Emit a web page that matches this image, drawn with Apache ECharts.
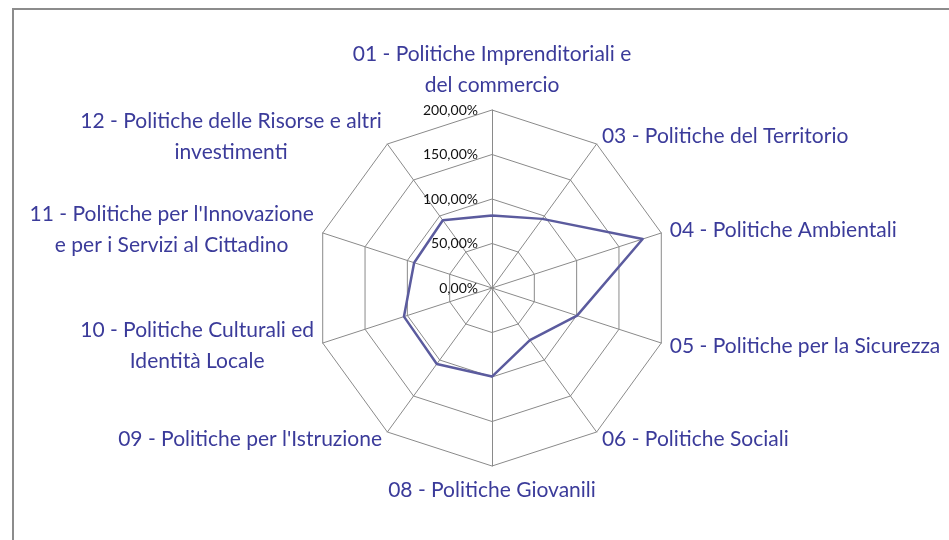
<!DOCTYPE html>
<html>
<head>
<meta charset="utf-8">
<script src="https://cdn.jsdelivr.net/npm/echarts@6/dist/echarts.min.js"></script>
<style>
  html, body {
    margin: 0;
    padding: 0;
    background: #ffffff;
  }
  .frame {
    position: absolute;
    left: 12px;
    top: 8px;
    width: 960px;
    height: 560px;
    border-left: 2px solid #8c8c8c;
    border-top: 2px solid #8c8c8c;
  }
  #chart {
    position: absolute;
    left: 0;
    top: 0;
    width: 949px;
    height: 540px;
  }
</style>
</head>
<body>
<div class="frame"></div>
<div id="chart"></div>
<script>
const categories = [
  '01 - Politiche Imprenditoriali e\ndel commercio',
  '03 - Politiche del Territorio',
  '04 - Politiche Ambientali',
  '05 - Politiche per la Sicurezza',
  '06 - Politiche Sociali',
  '08 - Politiche Giovanili',
  '09 - Politiche per l\'Istruzione',
  '10 - Politiche Culturali ed\nIdentità Locale',
  '11 - Politiche per l\'Innovazione\ne per i Servizi al Cittadino',
  '12 - Politiche delle Risorse e altri\ninvestimenti'
];
const values = [81.5, 96, 178, 100.5, 72.5, 99.5, 105.5, 104, 92, 94];
const tickValues = [0, 50, 100, 150, 200];
const tickLabels = ['0,00%', '50,00%', '100,00%', '150,00%', '200,00%'];

const labelColor = '#3b3b9a';
const lineColor = '#5b5b9e';
const gridColor = '#8a8a8a';
const nameFont = 'Lato';
const nameSize = 21;

const chart = echarts.init(document.getElementById('chart'));

// radar runs counter-clockwise, the original goes clockwise from the top
function clockwise(arr) {
  return [arr[0]].concat(arr.slice(1).reverse());
}

// measure lines so multi-line names can be centred inside their block
const measureCtx = document.createElement('canvas').getContext('2d');
measureCtx.font = nameSize + 'px ' + nameFont;

const rich = {};
const names = categories.map((name, i) => {
  const lines = name.split('\n');
  if (lines.length === 1) return name;
  const w = Math.ceil(Math.max(...lines.map(l => measureCtx.measureText(l).width)));
  rich['c' + i] = {
    width: w,
    align: 'center',
    fontSize: nameSize,
    fontFamily: nameFont,
    lineHeight: 31,
    color: labelColor
  };
  return lines.map(l => '{c' + i + '|' + l + '}').join('\n');
});

const radarCenter = [492, 288];
const radarRadius = 178;

const option = {
  animation: false,
  radar: [
    {
      center: radarCenter,
      radius: radarRadius,
      startAngle: 90,
      shape: 'polygon',
      splitNumber: 4,
      indicator: clockwise(names).map(n => ({ name: n, min: 0, max: 200 })),
      axisName: {
        color: labelColor,
        fontFamily: nameFont,
        fontSize: nameSize,
        lineHeight: 31,
        rich: rich
      },
      nameGap: 9,
      axisLine: { lineStyle: { color: gridColor, width: 1 } },
      splitLine: { lineStyle: { color: gridColor, width: 1 } },
      splitArea: { show: false },
      axisLabel: { show: false }
    },
    {
      // only the vertical axis carries the percentage labels
      center: radarCenter,
      radius: radarRadius,
      startAngle: 90,
      shape: 'polygon',
      splitNumber: 4,
      indicator: [{ name: '', min: 0, max: 200 }],
      axisName: { show: false },
      axisLine: { show: false },
      splitLine: { show: false },
      splitArea: { show: false },
      axisTick: { show: false },
      axisLabel: {
        show: true,
        margin: 14,
        color: '#111111',
        fontFamily: 'Lato',
        fontSize: 14,
        padding: [6, 0, 0, 0],
        formatter: (v) => {
          const idx = tickValues.indexOf(v);
          return idx >= 0 ? tickLabels[idx] : '';
        }
      }
    }
  ],
  series: [
    {
      type: 'radar',
      radarIndex: 0,
      symbol: 'none',
      lineStyle: { color: lineColor, width: 2.5 },
      data: [{ value: clockwise(values) }]
    }
  ]
};

chart.setOption(option);
</script>
</body>
</html>
